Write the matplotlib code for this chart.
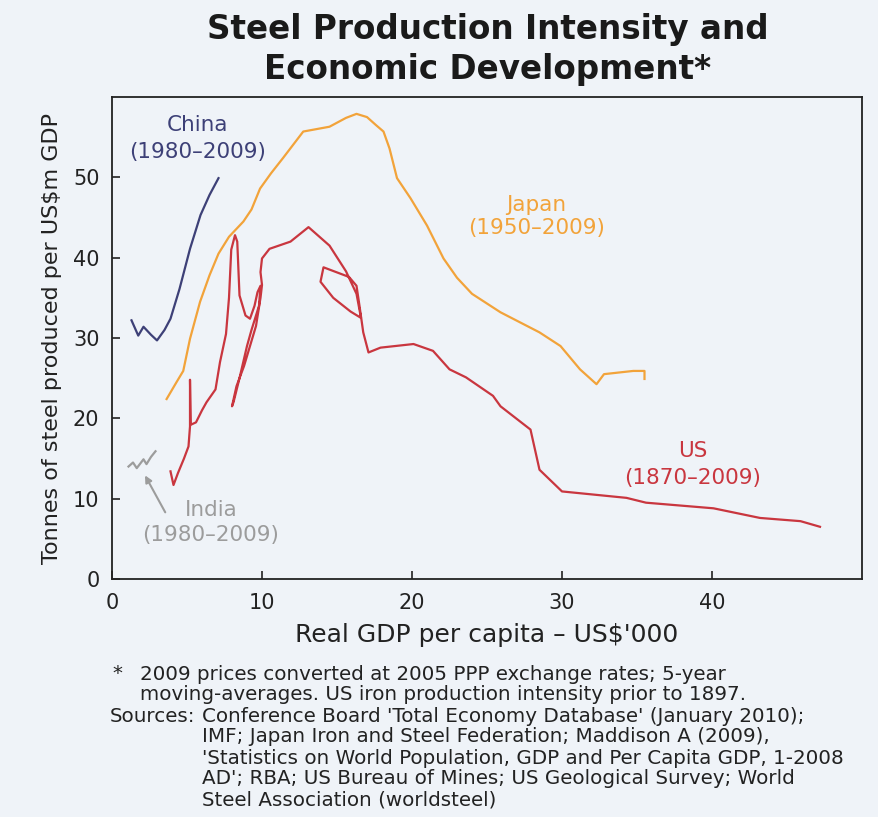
import matplotlib
matplotlib.use("Agg")
import matplotlib.pyplot as plt

# the reference type is stretched wide, DejaVu's wider glyphs get closer to it
plt.rcParams["font.family"] = ["DejaVu Sans"]

BG = "#eff3f8"
INK = "#222222"
CHINA_COL = "#3d4077"
JAPAN_COL = "#f2a33a"
US_COL = "#c9363f"
INDIA_COL = "#9c9c9c"

# Real GDP per capita (US$'000) vs tonnes of steel per US$m GDP
china_x = [1.3, 1.75, 2.1, 2.6, 3.0, 3.5, 3.9, 4.5, 5.2, 5.9, 6.5, 7.1]
china_y = [32.2, 30.3, 31.4, 30.4, 29.7, 31.0, 32.4, 36.1, 41.1, 45.3, 47.8, 49.9]

india_x = [1.1, 1.4, 1.65, 2.1, 2.3, 2.6, 2.9]
india_y = [14.0, 14.5, 13.8, 14.9, 14.3, 15.2, 15.9]

japan_x = [3.64, 4.3, 4.75, 5.2, 5.87, 6.5, 7.1, 7.8, 8.76, 9.3, 9.87, 10.6,
           11.4, 12.75, 14.5, 15.6, 16.3, 17.0, 17.6, 18.1, 18.5, 19.0, 19.9,
           21.0, 22.1, 23.0, 24.0, 25.9, 28.5, 29.9, 31.2, 32.3, 32.8, 34.75,
           35.5, 35.5]
japan_y = [22.4, 24.5, 25.9, 29.9, 34.5, 37.8, 40.5, 42.6, 44.5, 46.0, 48.6, 50.5,
           52.4, 55.7, 56.3, 57.4, 57.9, 57.5, 56.5, 55.7, 53.6, 49.9, 47.4,
           44.0, 39.9, 37.5, 35.5, 33.2, 30.7, 29.0, 26.1, 24.25, 25.5, 25.9,
           25.9, 24.9]

us_x = [3.9, 4.1, 4.4, 4.8, 5.1, 5.2, 5.2, 5.25, 5.6, 6.0, 6.3, 6.9, 7.2, 7.6,
        7.8, 7.95, 8.2, 8.35, 8.5, 8.9, 9.2, 9.5, 9.7, 9.9, 9.8, 9.3, 9.0, 8.5,
        8.1, 8.0, 8.3, 8.8, 9.2, 9.6, 9.9, 10.0, 9.9, 10.0, 10.5, 11.9, 13.1,
        14.5, 15.6, 16.3, 16.6, 15.9, 14.75, 13.9, 14.1, 15.8, 16.3, 16.5,
        16.75, 17.1, 17.9, 20.1, 21.4, 22.5, 23.6, 25.4, 25.9, 27.9, 28.5,
        30.0, 34.3, 35.6, 40.1, 43.2, 45.9, 47.2]
us_y = [13.4, 11.7, 13.2, 15.0, 16.5, 19.0, 24.8, 19.2, 19.5, 21.0, 22.0, 23.6,
        27.0, 30.5, 35.0, 41.0, 42.8, 42.0, 35.3, 32.8, 32.4, 34.0, 35.7, 36.5,
        34.0, 31.0, 29.0, 25.0, 22.0, 21.5, 24.0, 26.5, 29.0, 31.5, 35.0, 36.6,
        38.2, 39.9, 41.1, 42.0, 43.8, 41.5, 38.3, 35.5, 32.5, 33.3, 35.0, 37.0,
        38.8, 37.6, 36.5, 34.0, 30.7, 28.2, 28.8, 29.25, 28.4, 26.1, 25.1, 22.8,
        21.5, 18.6, 13.6, 10.9, 10.1, 9.5, 8.8, 7.6, 7.2, 6.5]

FOOTNOTE = [
    ("*", "2009 prices converted at 2005 PPP exchange rates; 5-year"),
    ("", "moving-averages. US iron production intensity prior to 1897."),
]
SOURCES = [
    "Conference Board 'Total Economy Database' (January 2010);",
    "IMF; Japan Iron and Steel Federation; Maddison A (2009),",
    "'Statistics on World Population, GDP and Per Capita GDP, 1-2008",
    "AD'; RBA; US Bureau of Mines; US Geological Survey; World",
    "Steel Association (worldsteel)",
]

fig = plt.figure(figsize=(8.79, 8.17), dpi=100, facecolor=BG)
ax = fig.add_axes([112 / 879, 1 - 579 / 817, 750 / 879, 482 / 817], facecolor=BG)

lw = 1.6
ax.plot(china_x, china_y, color=CHINA_COL, lw=lw)
ax.plot(india_x, india_y, color=INDIA_COL, lw=lw)
ax.plot(japan_x, japan_y, color=JAPAN_COL, lw=lw)
ax.plot(us_x, us_y, color=US_COL, lw=lw)

ax.set_xlim(0, 50)
ax.set_ylim(0, 60)
ax.set_xticks([0, 10, 20, 30, 40])
ax.set_yticks([0, 10, 20, 30, 40, 50])
ax.tick_params(direction="in", length=6, width=1.2, labelsize=15, colors=INK)
ax.tick_params(axis="y", pad=9)
ax.tick_params(axis="x", pad=10)
for s in ax.spines.values():
    s.set_linewidth(1.3)
    s.set_color(INK)

ax.set_xlabel("Real GDP per capita \u2013 US$'000", fontsize=18, color=INK, labelpad=7)
ax.set_ylabel("Tonnes of steel produced per US$m GDP", fontsize=16, color=INK, labelpad=8)

# series labels
lab = dict(fontsize=15.5, ha="center", va="center")
ax.text(5.7, 56.5, "China", color=CHINA_COL, **lab)
ax.text(5.7, 53.1, "(1980\u20132009)", color=CHINA_COL, **lab)
ax.text(28.3, 46.6, "Japan", color=JAPAN_COL, **lab)
ax.text(28.3, 43.7, "(1950\u20132009)", color=JAPAN_COL, **lab)
ax.text(38.7, 15.9, "US", color=US_COL, **lab)
ax.text(38.7, 12.6, "(1870\u20132009)", color=US_COL, **lab)
ax.text(6.6, 8.6, "India", color=INDIA_COL, **lab)
ax.text(6.6, 5.5, "(1980\u20132009)", color=INDIA_COL, **lab)
ax.annotate("", xy=(2.2, 12.9), xytext=(3.55, 8.3),
            arrowprops=dict(arrowstyle="-|>", color=INDIA_COL, lw=1.5,
                            mutation_scale=10, shrinkA=0, shrinkB=0))

fig.text(0.555, 1 - 30 / 817, "Steel Production Intensity and", fontsize=23.5,
         fontweight="bold", ha="center", va="center", color="#1a1a1a")
fig.text(0.555, 1 - 70 / 817, "Economic Development*", fontsize=23.5,
         fontweight="bold", ha="center", va="center", color="#1a1a1a")

fs = 14.3
step = 21
y0 = 674
for i, (mark, line) in enumerate(FOOTNOTE):
    y = 1 - (y0 + i * step) / 817
    if mark:
        fig.text(112 / 879, y, mark, fontsize=fs, va="center", color=INK)
    fig.text(140 / 879, y, line, fontsize=fs, va="center", color=INK)
for i, line in enumerate(SOURCES):
    y = 1 - (y0 + (i + 2) * step) / 817
    if i == 0:
        fig.text(110 / 879, y, "Sources:", fontsize=fs, va="center", color=INK)
    fig.text(202 / 879, y, line, fontsize=fs, va="center", color=INK)

fig.savefig("out.png", dpi=100, facecolor=BG)
